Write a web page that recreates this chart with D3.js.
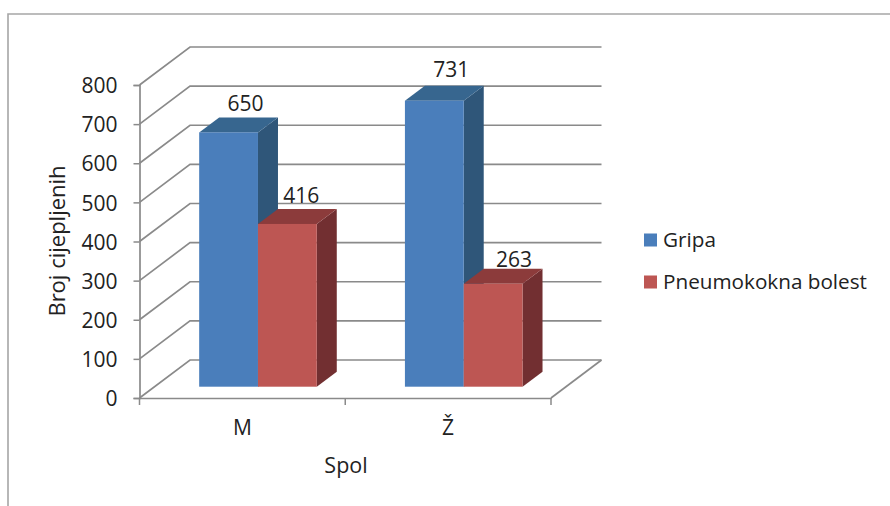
<!DOCTYPE html>
<html><head><meta charset="utf-8">
<script src="https://cdn.jsdelivr.net/npm/d3@7"></script>
<style>html,body{margin:0;padding:0;background:#fff}svg{display:block}text{font-family:"Open Sans",sans-serif;fill:#222}</style>
</head><body><div id="chart"></div>
<script>
const categories = ["M", "Ž"];
const seriesNames = ["Gripa", "Pneumokokna bolest"];
const gripa = [650, 731];
const pneumokokna = [416, 263];
const yTicks = [0, 100, 200, 300, 400, 500, 600, 700, 800];
const seriesColors = [
  {front: "#4a7ebb", top: "#37668f", side: "#2f5679"},
  {front: "#bd5653", top: "#8c3b3b", side: "#722f31"}
];
const W = 890, H = 506, FS = "21px";
const svg = d3.select("#chart").append("svg").attr("width", W).attr("height", H);

svg.append("path").attr("d", `M8,${H} V14 H${W}`).attr("fill", "none").attr("stroke", "#a6a6a6").attr("stroke-width", 1.6);

const y = d3.scaleLinear().domain([0, 800]).range([398, 85]);
const x = d3.scaleBand().domain(categories).range([139.5, 551]);
const wall = {dx: 50.5, dy: -38};
const barOff = {dx: 15.6, dy: -11.3};
const depth = {dx: 20, dy: -15};
const barW = 58.8;
const grid = "#8a8a8a";

const g = svg.append("g");
yTicks.forEach(t => {
  g.append("path")
    .attr("d", `M${x.range()[0]},${y(t)} L${x.range()[0] + wall.dx},${y(t) + wall.dy} H${x.range()[1] + wall.dx}`)
    .attr("fill", "none").attr("stroke", grid).attr("stroke-width", 1.7);
});
g.append("path")
  .attr("d", `M${x.range()[1]},${y(0)} L${x.range()[1] + wall.dx},${y(0) + wall.dy}`)
  .attr("stroke", grid).attr("stroke-width", 1.7).attr("fill", "none");

const yAxis = d3.axisLeft(y).tickValues(yTicks).tickSize(6).tickPadding(16);
const ya = svg.append("g").attr("transform", `translate(${x.range()[0]},0)`).call(yAxis);
ya.selectAll("text").style("font-size", FS).attr("y", 1);
ya.selectAll("line").attr("stroke", grid).attr("stroke-width", 1.5);
ya.select(".domain").attr("stroke", grid).attr("stroke-width", 1.7);

const xAxis = d3.axisBottom(x).tickSize(0).tickPadding(22);
const xa = svg.append("g").attr("transform", `translate(0,${y(0)})`).call(xAxis);
xa.selectAll("text").style("font-size", FS);
xa.select(".domain").attr("stroke", grid).attr("stroke-width", 1.7);
const bounds = [x.range()[0], x(categories[1]), x.range()[1]];
xa.selectAll("line.b").data(bounds).enter().append("line").attr("class", "b")
  .attr("x1", d => d).attr("x2", d => d).attr("y1", 0).attr("y2", 7)
  .attr("stroke", grid).attr("stroke-width", 1.5);

// per-label nudges: [series][category]
const labelNudge = [[{dx: 17, dy: -6}, {dx: 17, dy: -9}], [{dx: 14, dy: -6}, {dx: 21, dy: -2}]];
const series = [gripa, pneumokokna];
categories.forEach((c, ci) => {
  const cx = x(c) + x.bandwidth() / 2 + barOff.dx;
  series.forEach((vals, si) => {
    const col = seriesColors[si];
    const x0 = cx - barW + si * barW, x1 = x0 + barW;
    const yb = y(0) + barOff.dy, yt = y(vals[ci]) + barOff.dy;
    const bar = g.append("g");
    bar.append("path").attr("fill", col.side)
      .attr("d", `M${x1},${yt} L${x1 + depth.dx},${yt + depth.dy} V${yb + depth.dy} L${x1},${yb} Z`);
    bar.append("path").attr("fill", col.top)
      .attr("d", `M${x0},${yt} L${x0 + depth.dx},${yt + depth.dy} H${x1 + depth.dx} L${x1},${yt} Z`);
    bar.append("rect").attr("fill", col.front)
      .attr("x", x0).attr("y", yt).attr("width", barW).attr("height", yb - yt);
    const n = labelNudge[si][ci];
    svg.append("text").attr("x", (x0 + x1) / 2 + n.dx).attr("y", yt + depth.dy + n.dy)
      .attr("text-anchor", "middle").style("font-size", FS).text(vals[ci]);
  });
});

svg.append("text").attr("transform", "translate(65,241) rotate(-90)").attr("text-anchor", "middle")
  .style("font-size", "22px").text("Broj cijepljenih");
svg.append("text").attr("x", 346).attr("y", 473).attr("text-anchor", "middle")
  .style("font-size", "21.5px").text("Spol");

const legendY = d3.scalePoint().domain(seriesNames).range([240, 282]);
seriesNames.forEach((n, i) => {
  svg.append("rect").attr("x", 644).attr("y", legendY(n) - 6.5).attr("width", 13).attr("height", 13)
    .attr("fill", seriesColors[i].front);
  svg.append("text").attr("x", 663).attr("y", legendY(n) + 7).style("font-size", "20.7px").text(n);
});
</script></body></html>
